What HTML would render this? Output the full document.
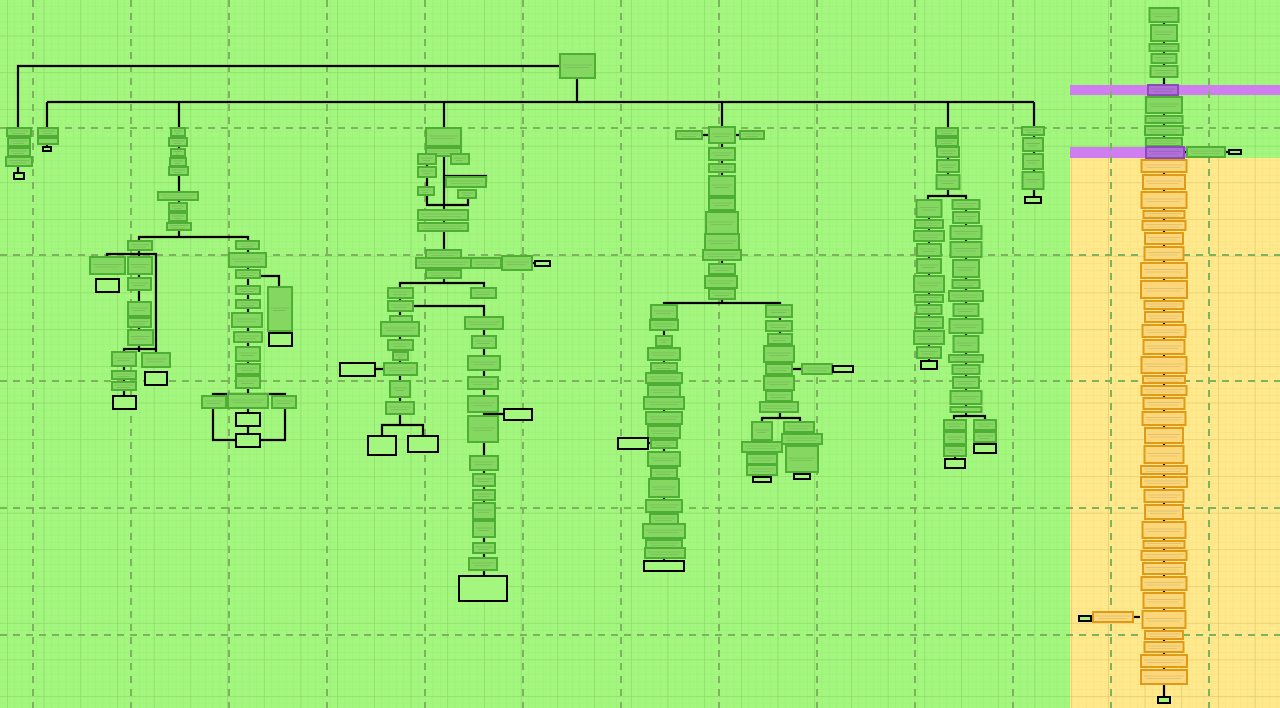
<!DOCTYPE html>
<html><head><meta charset="utf-8"><style>
html,body{margin:0;padding:0;background:#a3f77f;}
svg{display:block}
</style></head><body>
<svg id="s" width="1280" height="708" xmlns="http://www.w3.org/2000/svg">
<defs>
<pattern id="minor" width="7.34" height="7.34" patternUnits="userSpaceOnUse" x="7" y="-1">
<path d="M0 0H7.34M0 0V7.34" stroke="#94e870" stroke-width="0.6" fill="none"/></pattern>
<pattern id="major" width="36.7" height="36.7" patternUnits="userSpaceOnUse" x="7" y="-1">
<path d="M0 0H36.7M0 0V36.7" stroke="#8ad866" stroke-width="1.3" fill="none"/></pattern>
<pattern id="minorY" width="7.34" height="7.34" patternUnits="userSpaceOnUse" x="7" y="-1">
<path d="M0 0H7.34M0 0V7.34" stroke="#f0d878" stroke-width="0.6" fill="none"/></pattern>
<pattern id="majorY" width="36.7" height="36.7" patternUnits="userSpaceOnUse" x="7" y="-1">
<path d="M0 0H36.7M0 0V36.7" stroke="#e2c86a" stroke-width="1.3" fill="none"/></pattern>
</defs>
<rect width="1280" height="708" fill="#a3f77f"/>
<rect width="1280" height="708" fill="url(#minor)"/>
<rect width="1280" height="708" fill="url(#major)"/>
<rect x="1070" y="158" width="210" height="550" fill="#ffe98c"/>
<rect x="1070" y="158" width="210" height="550" fill="url(#minorY)"/>
<rect x="1070" y="158" width="210" height="550" fill="url(#majorY)"/>
<rect x="1070" y="85" width="210" height="10" fill="#cf7ef0"/>
<rect x="1070" y="147" width="118" height="11" fill="#cf7ef0"/>
<g id="dash" stroke="#7db35e" stroke-width="2" stroke-dasharray="7,6" fill="none"></g>
<g id="lines" stroke="#000" stroke-width="2.2" fill="none"></g>
<g id="nodes"></g>
</svg>
<script>
var NS="http://www.w3.org/2000/svg";
function el(p,t,a){var e=document.createElementNS(NS,t);for(var k in a)e.setAttribute(k,a[k]);document.getElementById(p).appendChild(e);return e;}
for(var x=33;x<1280;x+=98)el('dash','line',{x1:x,y1:0,x2:x,y2:708});
[128,255,381,508,635].forEach(function(y){el('dash','line',{x1:0,y1:y,x2:1280,y2:y});});
function L(pts){el('lines','polyline',{points:pts});}
function N(x,y,w,h,c){
  var f='#84d862',s='#4fae34';
  if(c==='o'){f='#fcd77a';s='#e09a18';}
  if(c==='p'){f='#b070d8';s='#8a4cb8';}
  el('nodes','rect',{x:x,y:y,width:w,height:h,fill:f,stroke:s,'stroke-width':2});
  if(h>=7){el('nodes','line',{x1:x+3,y1:y+h/2-1,x2:x+w-3,y2:y+h/2-1,stroke:'rgba(0,0,0,0.2)','stroke-width':0.6});
  el('nodes','line',{x1:x+5,y1:y+h/2+1.5,x2:x+w-6,y2:y+h/2+1.5,stroke:'rgba(0,0,0,0.17)','stroke-width':0.6});}
}
function B(x,y,w,h){el('nodes','rect',{x:x,y:y,width:w,height:h,fill:'#a3f77f',stroke:'#000','stroke-width':2});}
function stack(cx,y0,y1,wmin,wmax,c,seed){
  var y=y0,i=0,r=wmax-wmin+1;
  while(y<y1-4){var h=7+((seed*7+i*13)%11);if(y+h>y1)h=y1-y;var w=wmin+((seed*5+i*i*3+i*7)%r);N(cx-w/2,y,w,h,c);y+=h+3;i++;}
}
L("560,66 18,66 18,128");L("577,78 577,102");L("47,102 1034,102");
[47,179,444,722,948,1034].forEach(function(x){L(x+",102 "+x+",128");});
L("18,128 18,175");N(7,128,24,8);N(8,138,22,8);N(8,148,22,8);N(6,157,26,9);B(14,173,10,6);
L("47,128 47,148");N(38,128,20,8);N(38,138,20,6);B(43,147,8,4);
L("179,128 179,237");N(171,128,14,8);N(169,138,18,8);N(171,149,14,7);N(170,158,16,8);N(169,167,19,8);N(158,192,40,8);N(169,203,18,8);N(169,213,18,8);N(167,223,24,7);
L("139,245 139,237 248,237 248,245");
L("139,245 139,352");L("107,258 107,254 156,254 156,360");L("124,360 124,349 156,349");
N(128,241,24,9);N(90,257,35,17);N(128,257,24,17);B(96,279,23,13);N(128,278,23,12);N(128,302,23,14);N(128,318,23,9);N(128,330,25,15);
L("124,352 124,400");N(112,352,24,14);N(142,353,28,14);N(112,371,24,8);N(112,382,24,8);B(113,396,23,13);B(145,372,22,13);
L("248,241 248,394");L("248,276 279,276 279,340");
N(236,241,23,8);N(229,253,37,14);N(236,270,24,8);N(268,287,24,44);B(269,333,23,13);N(236,286,24,8);N(236,300,24,8);N(232,313,30,14);N(234,332,28,10);N(236,347,24,14);N(236,364,24,10);N(236,376,24,12);
L("213,400 213,394 285,394 285,440 248,440");L("213,400 213,440 248,440");L("248,394 248,434");
N(202,396,24,12);N(228,394,40,14);N(272,396,24,12);B(236,413,24,13);B(236,434,24,13);
L("444,128 444,283");L("427,155 427,150 460,150 460,160");L("427,160 427,205 468,205 468,195");L("444,176 486,176 486,182");
N(426,128,35,18);N(426,148,35,8);N(418,154,18,10);N(451,154,18,10);N(418,167,18,10);N(446,177,40,10);N(418,187,16,8);N(458,190,18,8);
N(418,210,50,10);N(418,223,50,8);N(426,250,35,8);L("444,263 535,263");N(416,258,55,10);N(471,258,30,10);N(502,256,30,14);B(535,261,15,5);N(426,270,35,8);
L("400,288 400,283 484,283 484,290");L("400,288 400,425");L("413,306 484,306 484,576");L("375,369 400,369");L("484,414 504,414");
N(388,288,25,10);N(388,301,25,10);N(390,316,22,6);N(381,322,38,14);N(388,340,25,10);N(393,352,15,8);N(384,363,33,12);B(340,363,35,13);N(390,381,20,16);N(386,402,28,12);
L("382,436 382,425 423,425 423,436");B(368,436,28,19);B(408,436,30,16);
N(471,288,25,10);N(465,317,38,12);N(472,336,24,12);N(468,356,32,14);N(468,377,30,12);N(468,396,30,16);N(468,416,30,26);B(504,409,28,11);
N(470,456,28,14);N(473,474,22,12);N(473,490,22,10);N(473,503,22,16);N(473,521,22,16);N(473,543,22,10);N(469,558,28,12);B(459,576,48,25);
L("722,128 722,303");L("702,135 740,135");
N(709,127,26,16);N(676,131,26,8);N(740,131,24,8);N(709,148,26,12);N(709,164,26,8);N(709,176,26,20);N(709,198,26,12);N(706,212,32,22);N(705,234,34,16);N(703,250,38,10);N(709,264,26,10);N(705,276,32,12);N(709,289,26,10);
L("664,305 664,303 780,303 780,305");L("664,305 664,561");L("780,305 780,418");L("648,443 664,443");L("780,369 833,369");
[[651,305,26,14],[650,320,28,10],[656,336,16,10],[648,348,32,12],[651,363,26,8],[646,373,36,10],[648,385,32,12],[644,397,40,12],[646,412,36,12],[648,426,32,12],[651,440,26,8],[648,452,32,14],[651,468,26,10],[649,479,30,18],[646,500,36,12],[650,514,28,10],[643,524,42,14],[646,540,36,8],[645,548,40,10]].forEach(function(a){N(a[0],a[1],a[2],a[3]);});
B(618,438,30,11);B(644,561,40,10);
[[766,305,26,12],[766,321,26,10],[768,334,24,10],[764,346,30,16],[766,364,26,10],[764,376,30,14],[766,391,26,10],[760,402,38,10]].forEach(function(a){N(a[0],a[1],a[2],a[3]);});
N(802,364,30,10);B(833,366,20,6);
L("762,422 762,418 800,418 800,422");L("762,422 762,477");L("802,422 802,474");
N(752,422,20,18);N(742,442,40,10);N(747,454,30,10);N(747,465,30,10);B(753,477,18,5);N(784,422,30,10);N(782,434,40,10);N(786,446,32,26);B(794,474,16,5);
L("948,128 948,196");N(936,128,22,8);N(936,138,22,8);stack(948,147,192,22,26,'g',2);
L("928,200 928,196 966,196 966,200");L("929,200 929,361");L("966,200 966,416");
stack(929,200,358,24,30,'g',3);B(921,361,16,8);
stack(966,200,412,24,34,'g',5);
L("954,420 954,416 985,416 985,420");L("955,420 955,460");L("985,420 985,444");
N(944,420,22,10);N(944,432,22,12);N(944,446,22,10);B(945,459,20,9);N(974,420,22,10);N(974,432,22,10);B(974,444,22,9);
L("1034,128 1034,197");N(1022,127,22,8);stack(1033,138,195,20,24,'g',4);B(1025,197,16,6);
L("1164,8 1164,697");L("1183,152 1229,152");L("1093,617 1079,617");L("1133,617 1140,617");
stack(1164,8,84,24,36,'g',1);N(1148,85,30,10,'p');stack(1164,97,146,36,38,'g',6);N(1146,147,38,11,'p');
N(1187,147,38,10);B(1229,150,12,4);
stack(1164,160,688,36,48,'o',7);
N(1093,612,40,10,'o');B(1079,616,12,5);B(1158,697,12,6);
N(560,54,35,24);
</script>
</body></html>
